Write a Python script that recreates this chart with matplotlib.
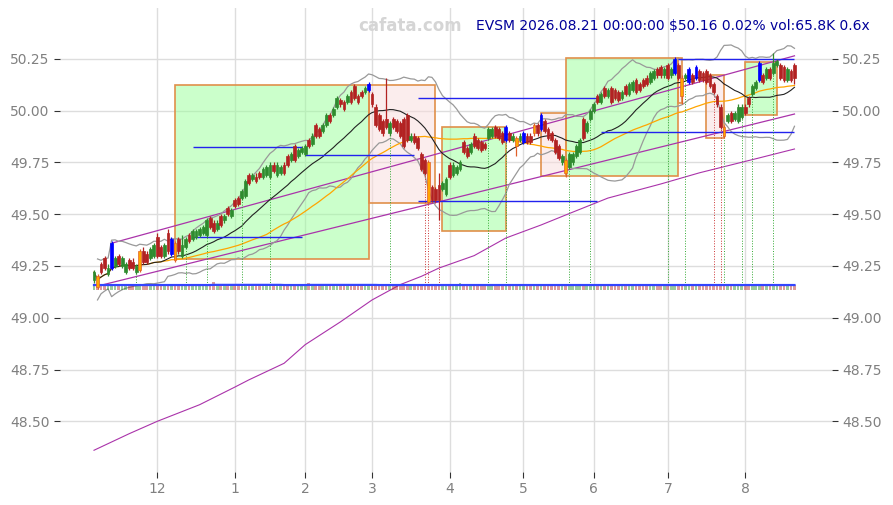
import numpy as np
import pandas as pd
import matplotlib
matplotlib.use("Agg")
import matplotlib.pyplot as plt
from matplotlib.patches import Rectangle

# daily candles, 2025-11-04 .. 2026-08-21
opens = [
    49.18, 49.20, 49.26, 49.29, 49.21, 49.24, 49.25, 49.30, 49.25, 49.22,
    49.28, 49.27, 49.22, 49.23, 49.32, 49.31, 49.29, 49.30, 49.39, 49.34,
    49.30, 49.41, 49.31, 49.36, 49.38, 49.30, 49.34, 49.40, 49.38, 49.39,
    49.40, 49.41, 49.40, 49.48, 49.46, 49.43, 49.49, 49.47, 49.53, 49.49,
    49.57, 49.58, 49.58, 49.59, 49.69, 49.67, 49.68, 49.70, 49.68, 49.69,
    49.68, 49.74, 49.69, 49.70, 49.74, 49.78, 49.76, 49.83, 49.78, 49.80,
    49.79, 49.86, 49.84, 49.93, 49.91, 49.90, 49.93, 49.98, 49.98, 50.02,
    50.05, 50.04, 50.04, 50.09, 50.12, 50.07, 50.09, 50.09, 50.10, 50.08,
    50.02, 49.98, 49.95, 49.96, 49.89, 49.96, 49.95, 49.94, 49.96, 49.98,
    49.86, 49.88, 49.87, 49.79, 49.76, 49.75, 49.63, 49.62, 49.64, 49.62,
    49.60, 49.74, 49.69, 49.70, 49.72, 49.85, 49.82, 49.80, 49.88, 49.86,
    49.85, 49.84, 49.87, 49.88, 49.92, 49.91, 49.89, 49.86, 49.89, 49.86,
    49.87, 49.86, 49.85, 49.88, 49.88, 49.89, 49.93, 49.91, 49.95, 49.91,
    49.89, 49.86, 49.83, 49.75, 49.76, 49.73, 49.75, 49.78, 49.80, 49.96,
    49.90, 49.96, 50.00, 50.07, 50.04, 50.11, 50.07, 50.11, 50.10, 50.09,
    50.06, 50.12, 50.08, 50.10, 50.15, 50.13, 50.15, 50.16, 50.14, 50.16,
    50.20, 50.21, 50.17, 50.22, 50.17, 50.18, 50.22, 50.16, 50.16, 50.14,
    50.17, 50.16, 50.19, 50.18, 50.19, 50.17, 50.13, 50.07, 50.02, 49.92,
    49.95, 49.99, 49.96, 49.95, 49.97, 50.02, 50.06, 50.08, 50.11, 50.15,
    50.17, 50.16, 50.20, 50.18, 50.22, 50.22, 50.21, 50.15, 50.19, 50.22,
]
closes = [
    49.22, 49.15, 49.22, 49.24, 49.24, 49.36, 49.29, 49.26, 49.29, 49.26,
    49.24, 49.24, 49.25, 49.32, 49.27, 49.27, 49.33, 49.35, 49.30, 49.30,
    49.35, 49.32, 49.38, 49.28, 49.32, 49.35, 49.38, 49.37, 49.42, 49.42,
    49.43, 49.44, 49.47, 49.44, 49.42, 49.46, 49.45, 49.49, 49.50, 49.52,
    49.54, 49.55, 49.61, 49.66, 49.65, 49.69, 49.66, 49.68, 49.72, 49.73,
    49.74, 49.71, 49.74, 49.73, 49.70, 49.74, 49.79, 49.76, 49.81, 49.82,
    49.83, 49.83, 49.88, 49.88, 49.88, 49.93, 49.98, 49.95, 50.01, 50.06,
    50.03, 50.01, 50.07, 50.04, 50.06, 50.04, 50.07, 50.11, 50.13, 50.03,
    49.93, 49.91, 49.89, 49.92, 49.94, 49.92, 49.90, 49.88, 49.83, 49.86,
    49.88, 49.85, 49.82, 49.72, 49.70, 49.56, 49.57, 49.57, 49.57, 49.65,
    49.67, 49.68, 49.74, 49.73, 49.75, 49.80, 49.78, 49.84, 49.83, 49.82,
    49.81, 49.82, 49.91, 49.91, 49.88, 49.87, 49.85, 49.92, 49.86, 49.88,
    49.83, 49.88, 49.89, 49.85, 49.85, 49.93, 49.89, 49.98, 49.90, 49.87,
    49.86, 49.80, 49.77, 49.78, 49.70, 49.79, 49.79, 49.83, 49.86, 49.87,
    49.94, 50.00, 50.03, 50.04, 50.08, 50.07, 50.10, 50.04, 50.06, 50.05,
    50.09, 50.08, 50.13, 50.14, 50.09, 50.10, 50.12, 50.13, 50.18, 50.19,
    50.17, 50.17, 50.20, 50.16, 50.20, 50.25, 50.16, 50.07, 50.17, 50.20,
    50.14, 50.21, 50.15, 50.15, 50.14, 50.12, 50.09, 50.03, 49.92, 49.88,
    49.98, 49.95, 49.99, 50.02, 50.02, 49.99, 50.03, 50.12, 50.14, 50.23,
    50.14, 50.20, 50.16, 50.23, 50.24, 50.16, 50.15, 50.20, 50.15, 50.16,
]
highs = [
    49.23, 49.21, 49.27, 49.30, 49.26, 49.37, 49.30, 49.31, 49.30, 49.27,
    49.29, 49.29, 49.26, 49.33, 49.34, 49.32, 49.34, 49.36, 49.41, 49.35,
    49.36, 49.43, 49.39, 49.37, 49.39, 49.40, 49.39, 49.41, 49.43, 49.43,
    49.44, 49.45, 49.48, 49.49, 49.47, 49.47, 49.50, 49.50, 49.54, 49.53,
    49.58, 49.59, 49.62, 49.67, 49.70, 49.70, 49.70, 49.71, 49.73, 49.74,
    49.75, 49.75, 49.75, 49.74, 49.75, 49.79, 49.80, 49.84, 49.82, 49.83,
    49.84, 49.87, 49.89, 49.94, 49.92, 49.94, 49.99, 49.99, 50.02, 50.07,
    50.06, 50.05, 50.08, 50.10, 50.13, 50.08, 50.10, 50.12, 50.14, 50.09,
    50.03, 49.99, 49.96, 50.16, 49.95, 49.97, 49.96, 49.95, 49.97, 49.99,
    49.89, 49.89, 49.88, 49.80, 49.77, 49.76, 49.64, 49.63, 49.70, 49.66,
    49.68, 49.75, 49.75, 49.74, 49.76, 49.86, 49.83, 49.85, 49.89, 49.87,
    49.86, 49.85, 49.92, 49.92, 49.93, 49.92, 49.90, 49.93, 49.90, 49.89,
    49.88, 49.89, 49.90, 49.89, 49.89, 49.94, 49.94, 49.99, 49.96, 49.92,
    49.90, 49.87, 49.84, 49.79, 49.77, 49.80, 49.80, 49.84, 49.87, 49.97,
    49.95, 50.01, 50.04, 50.08, 50.09, 50.12, 50.11, 50.12, 50.11, 50.10,
    50.10, 50.13, 50.14, 50.15, 50.16, 50.14, 50.16, 50.17, 50.19, 50.20,
    50.21, 50.22, 50.21, 50.23, 50.21, 50.26, 50.23, 50.17, 50.18, 50.21,
    50.18, 50.22, 50.20, 50.19, 50.20, 50.18, 50.14, 50.08, 50.03, 49.93,
    49.99, 50.00, 50.00, 50.03, 50.03, 50.03, 50.07, 50.13, 50.15, 50.24,
    50.18, 50.21, 50.21, 50.28, 50.25, 50.23, 50.22, 50.21, 50.20, 50.23,
]
lows = [
    49.17, 49.14, 49.21, 49.23, 49.20, 49.23, 49.24, 49.25, 49.24, 49.21,
    49.23, 49.23, 49.21, 49.22, 49.26, 49.26, 49.28, 49.29, 49.29, 49.29,
    49.29, 49.31, 49.30, 49.27, 49.31, 49.29, 49.33, 49.36, 49.37, 49.38,
    49.39, 49.40, 49.39, 49.43, 49.41, 49.42, 49.44, 49.46, 49.49, 49.48,
    49.53, 49.54, 49.57, 49.58, 49.64, 49.66, 49.65, 49.67, 49.67, 49.68,
    49.67, 49.70, 49.68, 49.69, 49.69, 49.73, 49.75, 49.75, 49.77, 49.79,
    49.78, 49.82, 49.83, 49.87, 49.87, 49.89, 49.92, 49.94, 49.97, 50.01,
    50.02, 50.00, 50.03, 50.03, 50.05, 50.03, 50.06, 50.08, 50.09, 50.02,
    49.92, 49.90, 49.88, 49.91, 49.88, 49.91, 49.89, 49.87, 49.82, 49.85,
    49.85, 49.84, 49.81, 49.71, 49.69, 49.55, 49.56, 49.56, 49.47, 49.61,
    49.59, 49.67, 49.68, 49.69, 49.71, 49.79, 49.77, 49.79, 49.82, 49.81,
    49.80, 49.81, 49.86, 49.87, 49.87, 49.86, 49.84, 49.85, 49.85, 49.85,
    49.78, 49.85, 49.84, 49.84, 49.84, 49.88, 49.88, 49.90, 49.89, 49.86,
    49.85, 49.79, 49.76, 49.74, 49.68, 49.72, 49.74, 49.77, 49.79, 49.86,
    49.89, 49.95, 49.99, 50.03, 50.03, 50.06, 50.06, 50.03, 50.05, 50.04,
    50.05, 50.07, 50.07, 50.09, 50.08, 50.09, 50.11, 50.12, 50.13, 50.15,
    50.16, 50.16, 50.16, 50.15, 50.16, 50.17, 50.15, 50.03, 50.15, 50.13,
    50.13, 50.15, 50.14, 50.14, 50.13, 50.11, 50.08, 50.02, 49.91, 49.87,
    49.94, 49.94, 49.95, 49.94, 49.96, 49.98, 50.02, 50.07, 50.10, 50.14,
    50.13, 50.15, 50.15, 50.17, 50.21, 50.15, 50.14, 50.14, 50.14, 50.13,
]
# volume is nearly flat, a few taller days
vol_spikes = {34: 1.7, 61: 1.5, 104: 1.4, 139: 1.2, 147: 1.2}
volume = [vol_spikes.get(i, 1.0) for i in range(len(closes))]

holidays = ["2025-11-27", "2025-12-25", "2026-01-01", "2026-01-19", "2026-02-16",
            "2026-04-03", "2026-05-25", "2026-06-19", "2026-07-03"]
dates = pd.bdate_range("2025-11-04", "2026-08-21", freq="C", holidays=holidays)

blue_days = [5, 22, 78, 117, 122, 127, 165, 169, 171, 189]
orange_days = [1, 13, 23, 95, 120, 125, 134, 167, 179]
buy_marks = [12, 26, 32, 42, 50, 84, 112, 117, 135, 141, 163, 168, 179, 184, 187, 193]
sell_marks = [94, 95, 98, 176, 178]

# boxes: start idx, end idx, low, high, rising?
boxes = [
    (23, 78, 49.284, 50.124, True),
    (78, 97, 49.554, 50.124, False),
    (99, 117, 49.419, 49.922, True),
    (127, 134, 49.685, 49.989, False),
    (134, 166, 49.685, 50.255, True),
    (166, 167, 50.037, 50.255, False),
    (174, 179, 49.868, 50.173, False),
    (185, 194, 49.980, 50.236, True),
]
# support / resistance levels: start idx, end idx, price
levels = [
    (28, 59, 49.825), (60, 91, 49.786), (28, 59, 49.390),
    (92, 144, 50.062), (92, 143, 49.564), (166, 199, 50.250), (144, 199, 49.897),
]
# channel lines: (idx, price) -> (idx, price)
channels = [((5, 49.36), (199, 50.265)), ((1, 49.153), (199, 49.984))]
# long moving average
long_ma_idx = [0, 10, 18, 30, 40, 44, 54, 60, 70, 79, 87, 93, 98, 108, 117, 127, 136, 146, 161, 172, 189, 199]
long_ma_val = [48.36, 48.44, 48.50, 48.58, 48.665, 48.70, 48.78, 48.87, 48.98, 49.086, 49.16, 49.20,
               49.24, 49.30, 49.385, 49.448, 49.51, 49.578, 49.646, 49.70, 49.772, 49.815]

df = pd.DataFrame({"Open": opens, "High": highs, "Low": lows, "Close": closes, "Vol": volume})
df["Date"] = dates[:len(df)]
x = np.arange(len(df))
sma20 = df.Close.rolling(20, min_periods=1).mean()
sma50 = df.Close.rolling(50, min_periods=1).mean()
std20 = df.Close.rolling(20, min_periods=2).std()
vol_ma = df.Vol.rolling(20, min_periods=1).mean()

fig = plt.figure(figsize=(8.93, 5.05), dpi=100)
ax = fig.add_axes([60 / 893, 1 - 472 / 505, 772 / 893, 464 / 505])

for s, e, lo, hi, up in boxes:
    fc = "#99ff99" if up else "#f9dcdc"
    ax.add_patch(Rectangle((s, lo), e - s, hi - lo, facecolor=fc, alpha=0.5,
                           edgecolor="none", zorder=1))
    ax.add_patch(Rectangle((s, lo), e - s, hi - lo, facecolor="none",
                           edgecolor="#e0904a", lw=1.2, zorder=1.1))

ax.plot(long_ma_idx, long_ma_val, color="#aa33aa", lw=0.8, zorder=2)
for (x0, y0), (x1, y1) in channels:
    ax.plot([x0, x1], [y0, y1], color="#aa33aa", lw=0.9, zorder=2)
ax.plot(x, sma20 + 2 * std20, color="#999999", lw=0.9, zorder=2)
ax.plot(x, sma20 - 2 * std20, color="#999999", lw=0.9, zorder=2)
ax.plot(x, sma50, color="orange", lw=0.9, zorder=2)
ax.plot(x, sma20, color="#222222", lw=0.8, zorder=2)
for s, e, p in levels:
    ax.hlines(p, s, e, color="#2222ee", lw=1.0, zorder=2)

# volume strip at the bottom
vol_base = 49.136
vol_scale = 0.022
up = df.Close >= df.Open
vcol = np.where(up, "forestgreen", "firebrick")
ax.bar(x, df.Vol * vol_scale, bottom=vol_base, width=0.75, color=vcol, alpha=0.45, zorder=2)
ax.plot(x, vol_base + vol_ma * vol_scale, color="#3344ff", lw=1.6, zorder=2.1)

for i in buy_marks:
    ax.vlines(i, vol_base + 0.02, df.Low[i], color="#33aa33", lw=0.7, linestyles=":", zorder=2)
for i in sell_marks:
    ax.vlines(i, vol_base + 0.02, df.Low[i], color="#cc3333", lw=0.7, linestyles=":", zorder=2)

# candles
colors = []
for i in x:
    if i in blue_days:
        colors.append("blue")
    elif i in orange_days:
        colors.append("orange")
    elif df.Close[i] >= df.Open[i]:
        colors.append("#2e8b2e")
    else:
        colors.append("#b22222")
edges = ["#e0602a" if c == "orange" else c for c in colors]
ax.vlines(x, df.Low, df.High, color=edges, lw=0.9, zorder=3)
body_lo = np.minimum(df.Open, df.Close)
body_h = np.maximum(np.abs(df.Close - df.Open), 0.004)
ax.bar(x, body_h, bottom=body_lo, width=0.8, color=colors, edgecolor=edges, lw=0.5, zorder=4)

month_start = [i for i in range(1, len(df)) if df.Date[i].month != df.Date[i - 1].month]
ax.set_xticks(month_start)
ax.set_xticklabels([str(df.Date[i].month) for i in month_start])
yt = np.arange(48.5, 50.26, 0.25)
ax.set_yticks(yt)
ax.set_yticklabels([f"{v:.2f}" for v in yt])
ax.set_xlim(-9.66, 209.66)
ax.set_ylim(48.255, 50.496)
ax.grid(True, color="#dddddd", lw=1.0, zorder=0)
ax.set_axisbelow(True)
for sp in ax.spines.values():
    sp.set_visible(False)
ax.tick_params(axis="both", colors="#333333", labelcolor="#808080", labelsize=10, length=4)
ax.tick_params(axis="y", right=True, labelright=True)

fig.text(410 / 893, 1 - 26 / 505, "cafata.com", color="#d5d5d5", fontsize=12,
         fontweight="bold", ha="center", va="center")
fig.text(870 / 893, 1 - 26 / 505, "EVSM 2026.08.21 00:00:00 $50.16 0.02% vol:65.8K 0.6x",
         color="#000099", fontsize=10, ha="right", va="center")

fig.savefig("out.png", dpi=100)
